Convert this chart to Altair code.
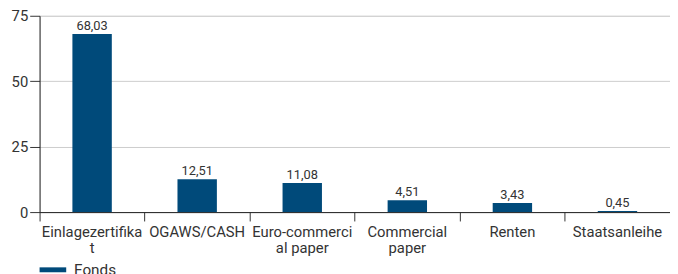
import altair as alt
import pandas as pd

categories = ["Einlagezertifika|t", "OGAWS/CASH", "Euro-commerci|al paper", "Commercial|paper", "Renten", "Staatsanleihe"]
values = [68.03, 12.51, 11.08, 4.51, 3.43, 0.45]
series = ["Fonds"] * 6
y_ticks = [0, 25, 50, 75]

df = pd.DataFrame({"cat": categories, "value": values, "series": series})

FONT = "Roboto"
TXT = "#333333"
BAR = "#004a7a"

base = alt.Chart(df).encode(
    x=alt.X("cat:N", sort=categories, title=None,
            scale=alt.Scale(paddingInner=0, paddingOuter=0),
            axis=alt.Axis(bandPosition=0, labelAngle=0,
                          labelExpr="split(datum.label, '|')",
                          labelFont=FONT, labelFontSize=15, labelColor=TXT,
                          labelLineHeight=16, labelPadding=4,
                          tickSize=9, tickColor="#333333", domainColor="#222222",
                          labelBaseline="top", grid=False)),
)

bars = base.mark_bar(width=alt.RelativeBandSize(0.375), color=BAR).encode(
    y=alt.Y("value:Q", title=None,
            scale=alt.Scale(domain=[0, 75], nice=False),
            axis=alt.Axis(values=y_ticks, labelFont=FONT, labelFontSize=15, labelColor=TXT,
                          tickSize=10, tickColor="#333333", domainColor="#222222",
                          gridColor="#cccccc", labelPadding=2)),
    color=alt.Color("series:N", scale=alt.Scale(range=[BAR]),
                    legend=alt.Legend(title=None, orient="none", legendX=0, legendY=244,
                                      symbolType="M-1,-0.185H1V0.185H-1Z", symbolSize=729,
                                      symbolFillColor=BAR, symbolStrokeWidth=0, symbolOpacity=1,
                                      labelOffset=8,
                                      labelFont=FONT, labelFontSize=15.5, labelColor=TXT)),
)

texts = base.mark_text(dy=-8, font=FONT, fontSize=13, color=TXT).transform_calculate(
    lbl="replace(format(datum.value, '.2f'), '.', ',')"
).encode(y="value:Q", text="lbl:N")

chart = (bars + texts).properties(
    width=639, height=199,
    autosize=alt.AutoSizeParams(type="none"),
    padding={"left": 32, "top": 6, "right": 0, "bottom": 70},
).configure_view(stroke=None).configure(background="white")

chart.save("out.html", embed_options={"renderer": "svg", "actions": False})
